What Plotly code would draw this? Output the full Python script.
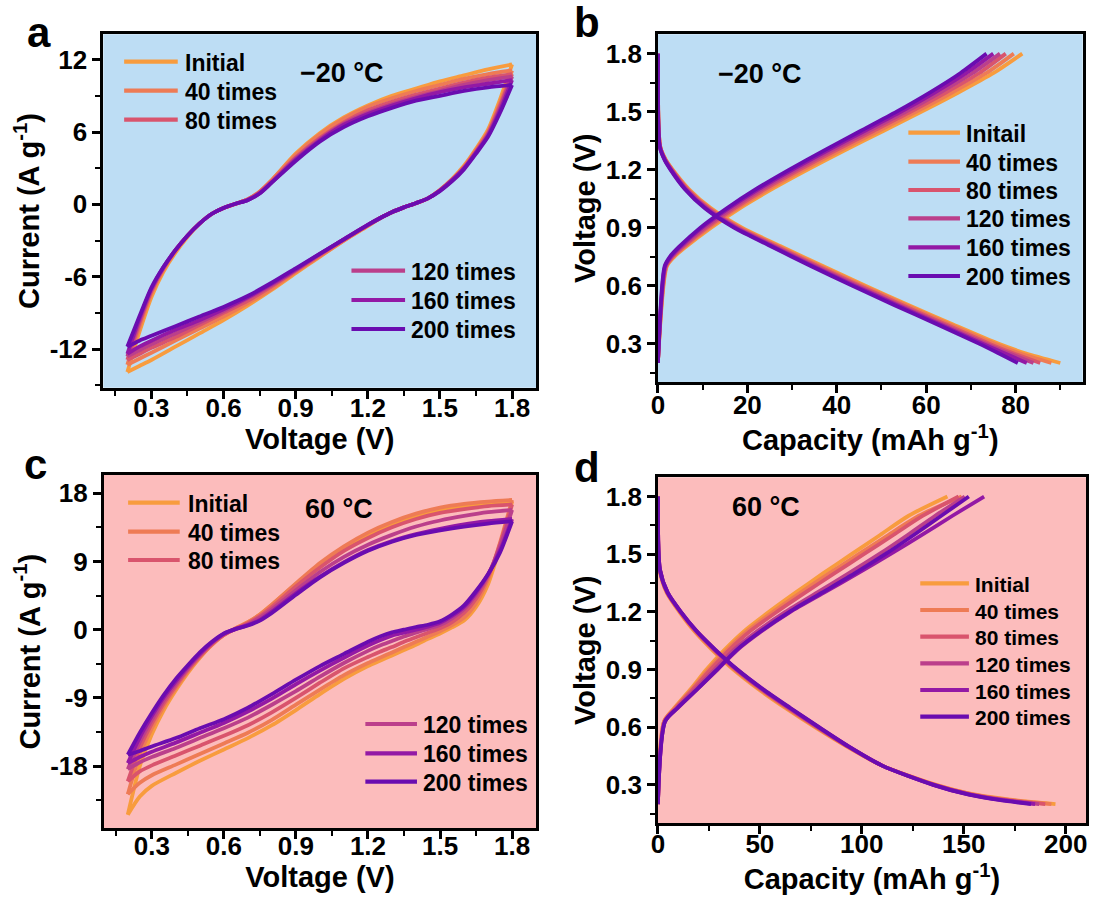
import plotly.graph_objects as go

W, H = 1094, 901
FONT = "Liberation Sans, Arial, sans-serif"

# ---------------- shared series info ----------------
CYCLES = ["Initial", "40 times", "80 times", "120 times", "160 times", "200 times"]
CYCLES_B = ["Initail", "40 times", "80 times", "120 times", "160 times", "200 times"]
COLORS = ["#F89C3E", "#EE7B55", "#D9546D", "#BB3F8B", "#9319A5", "#6A0CB0"]

BG_COLD = "#BDDDF4"
BG_HOT = "#FCBCBC"

# ---------------- CV voltage grids (V) ----------------
CV_V_UP = [0.2, 0.25, 0.3, 0.35, 0.4, 0.45, 0.5, 0.55, 0.6, 0.65, 0.7, 0.75,
           0.8, 0.9, 1.0, 1.1, 1.2, 1.3, 1.4, 1.5, 1.6, 1.7, 1.8]
CV_V_DN = [1.8, 1.75, 1.7, 1.65, 1.6, 1.55, 1.5, 1.45, 1.4, 1.35, 1.3, 1.25,
           1.2, 1.1, 1.0, 0.9, 0.8, 0.7, 0.6, 0.5, 0.4, 0.3, 0.25, 0.2]

# ---------------- (a) CV at -20 C, current in A/g ----------------
A_I_UP = [
    [-13.9, -10.6, -7.7, -5.6, -4.0, -2.7, -1.6, -0.8, -0.3, 0.05, 0.4, 1.05, 2.0, 4.2, 5.9, 7.2, 8.2, 9.0, 9.6, 10.2, 10.7, 11.2, 11.6],
    [-13.3, -10.2, -7.4, -5.4, -3.9, -2.6, -1.6, -0.8, -0.3, 0.05, 0.4, 1.05, 2.0, 4.1, 5.8, 7.1, 8.1, 8.8, 9.4, 9.9, 10.4, 10.8, 11.1],
    [-12.9, -9.9, -7.2, -5.3, -3.8, -2.6, -1.6, -0.8, -0.3, 0.05, 0.4, 1.0, 1.9, 3.9, 5.5, 6.8, 7.8, 8.5, 9.1, 9.6, 10.1, 10.5, 10.8],
    [-12.6, -9.7, -7.1, -5.3, -3.8, -2.6, -1.6, -0.8, -0.3, 0.05, 0.38, 0.95, 1.85, 3.8, 5.4, 6.7, 7.6, 8.3, 8.9, 9.4, 9.9, 10.3, 10.6],
    [-12.4, -9.5, -7.0, -5.2, -3.8, -2.6, -1.6, -0.8, -0.3, 0.05, 0.35, 0.9, 1.8, 3.7, 5.3, 6.6, 7.5, 8.2, 8.8, 9.3, 9.7, 10.0, 10.3],
    [-11.8, -9.3, -6.9, -5.2, -3.8, -2.6, -1.6, -0.8, -0.3, 0.05, 0.35, 0.9, 1.8, 3.6, 5.2, 6.4, 7.3, 8.0, 8.6, 9.0, 9.4, 9.7, 9.9],
]
A_I_DN = [
    [11.6, 8.7, 6.2, 4.6, 3.2, 2.1, 1.2, 0.5, 0.1, -0.25, -0.65, -1.15, -1.8, -3.0, -4.35, -5.7, -7.1, -8.4, -9.6, -10.7, -11.8, -12.9, -13.4, -13.9],
    [11.1, 8.4, 6.0, 4.5, 3.1, 2.05, 1.2, 0.5, 0.1, -0.25, -0.65, -1.15, -1.75, -3.0, -4.3, -5.6, -7.0, -8.2, -9.3, -10.3, -11.3, -12.3, -12.8, -13.3],
    [10.8, 8.2, 5.9, 4.4, 3.05, 2.0, 1.15, 0.5, 0.1, -0.25, -0.65, -1.15, -1.75, -2.95, -4.2, -5.5, -6.8, -8.0, -9.0, -10.0, -11.0, -11.9, -12.4, -12.9],
    [10.6, 8.0, 5.8, 4.3, 3.0, 2.0, 1.15, 0.5, 0.1, -0.25, -0.65, -1.15, -1.7, -2.9, -4.15, -5.45, -6.7, -7.8, -8.85, -9.8, -10.7, -11.6, -12.1, -12.6],
    [10.3, 7.8, 5.7, 4.3, 3.0, 2.0, 1.15, 0.5, 0.1, -0.25, -0.65, -1.15, -1.7, -2.9, -4.1, -5.4, -6.6, -7.7, -8.7, -9.6, -10.4, -11.3, -11.8, -12.4],
    [9.9, 7.6, 5.6, 4.2, 2.9, 1.9, 1.1, 0.5, 0.1, -0.25, -0.65, -1.15, -1.7, -2.9, -4.1, -5.3, -6.5, -7.6, -8.5, -9.3, -10.1, -10.9, -11.3, -11.8],
]

# ---------------- (c) CV at 60 C, current in A/g ----------------
C_I_UP = [
    [-24.4, -18.0, -13.8, -10.6, -8.0, -5.7, -3.7, -2.0, -0.7, 0.2, 1.0, 2.0, 3.3, 6.0, 8.6, 10.8, 12.5, 13.9, 15.0, 15.8, 16.3, 16.7, 16.9],
    [-21.7, -16.5, -13.0, -10.1, -7.7, -5.5, -3.6, -2.0, -0.7, 0.2, 1.0, 2.0, 3.3, 6.1, 8.8, 11.0, 12.8, 14.2, 15.3, 16.1, 16.6, 16.9, 17.1],
    [-20.0, -15.6, -12.4, -9.7, -7.4, -5.3, -3.5, -1.9, -0.7, 0.15, 0.85, 1.8, 3.0, 5.7, 8.2, 10.4, 12.1, 13.5, 14.6, 15.4, 15.9, 16.3, 16.5],
    [-18.4, -14.8, -11.9, -9.3, -7.1, -5.1, -3.3, -1.8, -0.6, 0.1, 0.7, 1.6, 2.7, 5.2, 7.6, 9.6, 11.2, 12.5, 13.6, 14.4, 15.0, 15.5, 15.8],
    [-17.6, -14.2, -11.4, -8.9, -6.8, -4.9, -3.2, -1.7, -0.55, 0.1, 0.6, 1.3, 2.4, 4.8, 7.0, 8.9, 10.5, 11.7, 12.6, 13.3, 13.9, 14.3, 14.6],
    [-16.5, -13.6, -11.0, -8.6, -6.5, -4.7, -3.0, -1.6, -0.5, 0.1, 0.55, 1.2, 2.2, 4.6, 6.9, 8.8, 10.4, 11.6, 12.5, 13.1, 13.6, 14.0, 14.3],
]
C_I_DN = [
    [16.9, 11.0, 6.0, 3.0, 1.2, 0.3, -0.5, -1.2, -2.0, -2.7, -3.4, -4.1, -4.8, -6.5, -8.5, -10.6, -12.6, -14.3, -15.8, -17.3, -18.9, -20.6, -22.0, -24.4],
    [17.1, 11.5, 6.6, 3.5, 1.6, 0.6, -0.2, -0.9, -1.6, -2.3, -3.0, -3.7, -4.4, -6.0, -7.9, -9.9, -11.9, -13.6, -15.0, -16.4, -17.8, -19.2, -20.2, -21.7],
    [16.5, 11.3, 7.0, 4.1, 2.2, 1.0, 0.2, -0.4, -1.0, -1.6, -2.3, -2.9, -3.6, -5.1, -7.0, -9.0, -10.9, -12.6, -14.0, -15.3, -16.6, -17.9, -18.7, -20.0],
    [15.8, 11.0, 7.2, 4.6, 2.7, 1.5, 0.6, 0.1, -0.4, -0.9, -1.5, -2.1, -2.8, -4.4, -6.2, -8.1, -9.9, -11.6, -13.0, -14.3, -15.6, -16.8, -17.5, -18.4],
    [14.6, 10.5, 7.3, 4.9, 3.0, 1.8, 0.9, 0.4, 0.0, -0.4, -0.8, -1.4, -2.1, -3.7, -5.4, -7.2, -9.1, -10.8, -12.3, -13.6, -14.9, -16.1, -16.8, -17.6],
    [14.3, 10.2, 7.3, 5.1, 3.2, 2.0, 1.1, 0.65, 0.35, 0.0, -0.35, -0.9, -1.6, -3.2, -4.8, -6.6, -8.5, -10.3, -11.8, -13.0, -14.3, -15.4, -16.0, -16.5],
]

# ---------------- (b) GCD at -20 C, capacity in mAh/g ----------------
B_V_CH = [0.2, 0.7, 0.75, 0.8, 0.9, 1.0, 1.1, 1.2, 1.3, 1.4, 1.5, 1.6, 1.7, 1.8]
B_CAP_CH = [
    [0, 2.0, 3.7, 6.2, 11.9, 18.3, 25.6, 33.5, 41.8, 50.4, 59.0, 67.3, 75.1, 81.5],
    [0, 1.9, 3.5, 5.9, 11.4, 17.7, 24.8, 32.6, 40.8, 49.3, 57.8, 65.9, 73.5, 79.6],
    [0, 1.8, 3.3, 5.6, 10.9, 17.1, 24.0, 31.7, 39.8, 48.2, 56.6, 64.5, 71.9, 77.8],
    [0, 1.7, 3.1, 5.3, 10.4, 16.5, 23.3, 30.9, 38.9, 47.2, 55.5, 63.2, 70.4, 76.5],
    [0, 1.6, 2.9, 5.0, 9.9, 15.9, 22.6, 30.1, 38.0, 46.2, 54.4, 62.0, 69.0, 75.0],
    [0, 1.5, 2.7, 4.7, 9.5, 15.4, 22.0, 29.4, 37.2, 45.3, 53.4, 60.9, 67.7, 73.5],
]
B_V_DC = [1.8, 1.32, 1.25, 1.2, 1.1, 1.0, 0.9, 0.8, 0.7, 0.6, 0.5, 0.4, 0.3, 0.25, 0.2]
B_CAP_DC = [
    [0, 0.5, 1.8, 3.3, 6.9, 11.9, 18.8, 27.8, 37.0, 46.4, 56.0, 65.9, 76.1, 82.2, 90.0],
    [0, 0.5, 1.7, 3.2, 6.7, 11.6, 18.4, 27.3, 36.4, 45.8, 55.4, 65.2, 75.2, 80.9, 88.0],
    [0, 0.5, 1.7, 3.1, 6.5, 11.3, 18.0, 26.8, 35.8, 45.1, 54.6, 64.3, 74.1, 79.5, 85.5],
    [0, 0.45, 1.6, 3.0, 6.3, 11.0, 17.6, 26.3, 35.2, 44.5, 53.9, 63.6, 73.3, 78.5, 84.0],
    [0, 0.4, 1.55, 2.9, 6.1, 10.7, 17.3, 25.9, 34.7, 43.9, 53.4, 63.0, 72.6, 77.5, 82.5],
    [0, 0.4, 1.5, 2.8, 6.0, 10.5, 17.0, 25.6, 34.3, 43.4, 52.8, 62.4, 71.8, 76.2, 80.5],
]

# ---------------- (d) GCD at 60 C, capacity in mAh/g ----------------
D_V_CH = [0.2, 0.63, 0.7, 0.8, 0.9, 1.0, 1.1, 1.2, 1.3, 1.4, 1.5, 1.6, 1.7, 1.8]
D_CAP_CH = [
    [0, 3.0, 8.0, 16.2, 23.8, 32.4, 42.3, 54.5, 67.5, 81.0, 95.0, 109.0, 123.0, 142.0],
    [0, 3.0, 8.4, 16.8, 24.8, 33.6, 43.8, 56.5, 70.0, 84.0, 98.5, 113.0, 128.0, 149.0],
    [0, 3.2, 8.8, 17.4, 25.8, 34.8, 45.3, 58.3, 72.2, 86.5, 101.0, 115.5, 130.0, 147.5],
    [0, 3.4, 9.3, 18.6, 27.8, 37.0, 48.8, 62.5, 78.0, 93.5, 108.5, 122.5, 136.0, 150.5],
    [0, 3.5, 9.8, 19.6, 29.3, 38.8, 51.0, 65.0, 81.5, 98.0, 114.0, 129.5, 144.5, 160.0],
    [0, 3.5, 9.6, 19.5, 29.0, 38.4, 50.5, 64.5, 80.5, 96.5, 111.5, 125.5, 139.0, 152.5],
]
D_V_DC = [1.8, 1.42, 1.3, 1.2, 1.1, 1.0, 0.9, 0.8, 0.7, 0.6, 0.5, 0.4, 0.3, 0.25, 0.22, 0.2]
D_CAP_DC = [
    [0, 0.8, 4.3, 10.5, 17.8, 26.8, 37.0, 49.0, 62.5, 77.0, 92.5, 110.0, 136.5, 155.0, 175.0, 195.0],
    [0, 0.9, 4.5, 10.8, 18.2, 27.3, 37.6, 49.7, 63.2, 77.6, 92.9, 110.0, 136.0, 154.3, 173.5, 193.0],
    [0, 0.9, 4.6, 11.0, 18.5, 27.8, 38.2, 50.3, 63.8, 78.0, 93.0, 110.0, 135.7, 153.5, 171.5, 190.0],
    [0, 1.0, 4.7, 11.1, 18.8, 28.1, 38.6, 50.8, 64.4, 78.5, 93.3, 110.0, 135.4, 152.8, 170.0, 187.0],
    [0, 1.0, 4.8, 11.2, 18.9, 28.3, 38.8, 51.0, 64.7, 78.8, 93.4, 110.0, 135.2, 152.4, 169.0, 185.0],
    [0, 1.0, 4.8, 11.3, 19.0, 28.5, 39.0, 51.3, 65.0, 79.0, 93.5, 110.0, 135.0, 152.0, 168.0, 183.0],
]

# ---------------- tick labels ----------------
CV_XTICKS = [0.3, 0.6, 0.9, 1.2, 1.5, 1.8]
A_YTICKS = [-12, -6, 0, 6, 12]
A_YTICKTEXT = ["-12", "-6", "0", "6", "12"]
C_YTICKS = [-18, -9, 0, 9, 18]
C_YTICKTEXT = ["-18", "-9", "0", "9", "18"]
GCD_YTICKS = [0.3, 0.6, 0.9, 1.2, 1.5, 1.8]
B_XTICKS = [0, 20, 40, 60, 80]
D_XTICKS = [0, 50, 100, 150, 200]


def px(x):
    return x / W


def py(y):
    return 1 - y / H


fig = go.Figure()

LW = 3.8


def add_line(xs, ys, color, xa, ya):
    fig.add_trace(go.Scatter(
        x=xs, y=ys, mode="lines", xaxis=xa, yaxis=ya,
        line=dict(color=color, width=LW, shape="spline", smoothing=0.7),
        showlegend=False, hoverinfo="skip"))


# CV loops: anodic sweep then cathodic sweep for each cycle
for k in range(6):
    add_line(CV_V_UP, A_I_UP[k], COLORS[k], "x", "y")
    add_line(CV_V_DN, A_I_DN[k], COLORS[k], "x", "y")
for k in range(6):
    add_line(CV_V_UP, C_I_UP[k], COLORS[k], "x3", "y3")
    add_line(CV_V_DN, C_I_DN[k], COLORS[k], "x3", "y3")

# charge / discharge curves
for k in range(6):
    add_line(B_CAP_CH[k], B_V_CH, COLORS[k], "x2", "y2")
    add_line(B_CAP_DC[k], B_V_DC, COLORS[k], "x2", "y2")
for k in range(6):
    add_line(D_CAP_CH[k], D_V_CH, COLORS[k], "x4", "y4")
    add_line(D_CAP_DC[k], D_V_DC, COLORS[k], "x4", "y4")


def axis(domain, rng, tickvals, ticktext, minor_dtick, minor_tick0, title, anchor,
         standoff, label_shift=0):
    return dict(
        domain=domain, range=rng, anchor=anchor,
        tickvals=tickvals, ticktext=ticktext,
        showline=True, linewidth=2.6, linecolor="black", mirror=True,
        ticks="outside", ticklen=8, tickwidth=2.6, tickcolor="black",
        ticklabelstandoff=label_shift,
        showgrid=False, zeroline=False,
        tickfont=dict(family=FONT, size=26, color="black", weight="bold"),
        title=dict(text=title, standoff=standoff,
                   font=dict(family=FONT, size=29, color="black", weight="bold")),
        minor=dict(ticks="outside", ticklen=5, tickwidth=2.2, tickcolor="black",
                   dtick=minor_dtick, tick0=minor_tick0, showgrid=False),
    )


CV_XTEXT = [f"{v:.1f}" for v in CV_XTICKS]
GCD_YTEXT = [f"{v:.1f}" for v in GCD_YTICKS]

fig.update_layout(
    width=W, height=H,
    margin=dict(l=0, r=0, t=0, b=0),
    paper_bgcolor="white", plot_bgcolor="rgba(0,0,0,0)",
    font=dict(family=FONT, color="black"),
    xaxis=axis([px(97), px(533)], [0.1, 1.9], CV_XTICKS, CV_XTEXT, 0.15, 0.15,
               "Voltage (V)", "y", 6, -13),
    yaxis=axis([py(387.7), py(34.3)], [-15.2, 14.1], A_YTICKS, A_YTICKTEXT, 3, 0,
               "Current (A g<sup>-1</sup>)", "x", 2),
    xaxis2=axis([px(655.7), px(1083.6)], [0, 95], B_XTICKS, [str(v) for v in B_XTICKS], 10, 0,
                "Capacity (mAh g<sup>-1</sup>)", "y2", 8, -10),
    yaxis2=axis([py(382.3), py(34.3)], [0.1, 1.9], GCD_YTICKS, GCD_YTEXT, 0.15, 0.15,
                "Voltage (V)", "x2", 2),
    xaxis3=axis([px(97.5), px(533)], [0.1, 1.9], CV_XTICKS, CV_XTEXT, 0.15, 0.15,
                "Voltage (V)", "y3", 6, -15),
    yaxis3=axis([py(828.3), py(475)], [-26.2, 20.4], C_YTICKS, C_YTICKTEXT, 4.5, 0,
                "Current (A g<sup>-1</sup>)", "x3", 2),
    xaxis4=axis([px(655.7), px(1087)], [0, 210], D_XTICKS, [str(v) for v in D_XTICKS], 25, 0,
                "Capacity (mAh g<sup>-1</sup>)", "y4", 6, -12),
    yaxis4=axis([py(823.3), py(477.3)], [0.1, 1.9], GCD_YTICKS, GCD_YTEXT, 0.15, 0.15,
                "Voltage (V)", "x4", 2),
)

# panel backgrounds
for xa, ya, col in [("x", "y", BG_COLD), ("x2", "y2", BG_COLD),
                    ("x3", "y3", BG_HOT), ("x4", "y4", BG_HOT)]:
    fig.add_shape(type="rect", xref=f"{xa} domain", yref=f"{ya} domain",
                  x0=0, x1=1, y0=0, y1=1, fillcolor=col, line_width=0, layer="below")

annotations = []


def text(x, y, s, size, xanchor="center"):
    annotations.append(dict(
        x=px(x), y=py(y), xref="paper", yref="paper", text=s, showarrow=False,
        xanchor=xanchor, yanchor="middle",
        font=dict(family=FONT, size=size, color="black", weight="bold")))


# panel letters
text(32, 33, "a", 42)
text(584, 23, "b", 42)
text(29, 465, "c", 42)
text(584, 467, "d", 42)

# temperature labels
text(337, 73, "\u221220 \u00b0C", 27)
text(759, 74, "\u221220 \u00b0C", 27)
text(334, 509, "60 \u00b0C", 27)
text(765, 507, "60 \u00b0C", 27)


def legend_block(items, x0, x1, xt, ys, size):
    for (label, color), y in zip(items, ys):
        fig.add_shape(type="line", xref="paper", yref="paper",
                      x0=px(x0), x1=px(x1), y0=py(y), y1=py(y),
                      line=dict(color=color, width=4.2))
        text(xt, y + 1, label, size, xanchor="left")


pairs = list(zip(CYCLES, COLORS))
pairs_b = list(zip(CYCLES_B, COLORS))
legend_block(pairs[:3], 118, 172, 177, [61.7, 90.7, 119.7], 23)
legend_block(pairs[3:], 347, 401, 405, [270.7, 300, 329], 23)
legend_block(pairs_b, 908, 960, 964, [132.7, 161.7, 190, 218.3, 247.3, 276], 23)
legend_block(pairs[:3], 122, 174, 180, [502.7, 531.7, 560], 23)
legend_block(pairs[3:], 361, 413, 417, [724, 753.3, 781.7], 23)
legend_block(pairs, 920, 969, 973, [583.3, 610, 636.7, 663.3, 690, 716.7], 21)

fig.update_layout(annotations=annotations)

fig.write_html("out.html")
